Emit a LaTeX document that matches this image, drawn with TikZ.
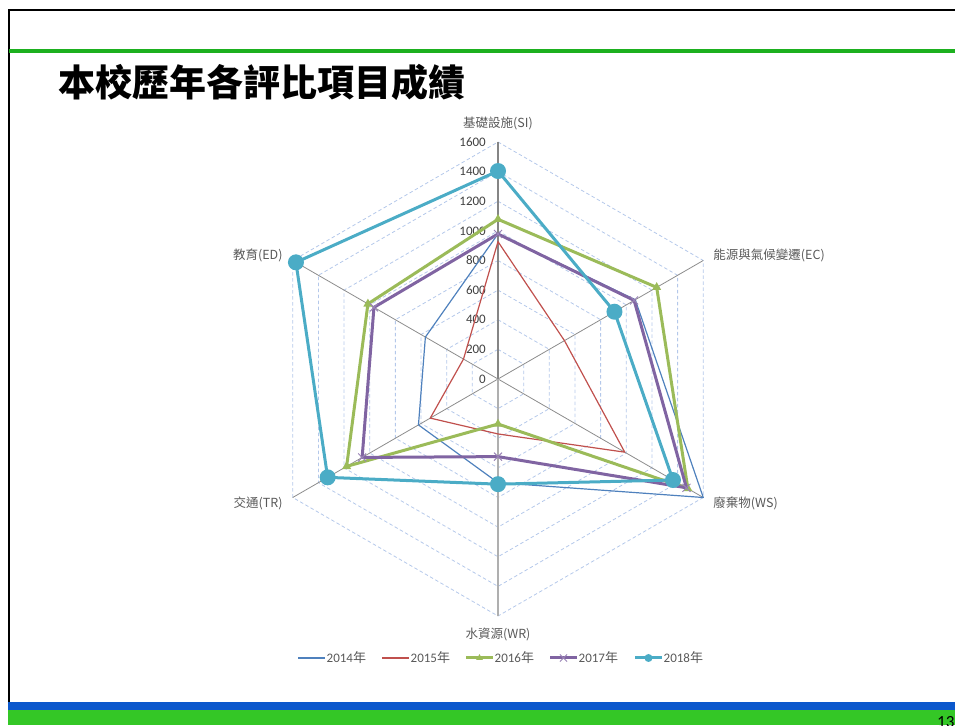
\documentclass[tikz,border=0pt]{standalone}
\usepackage{fontspec}
\setmainfont{Carlito}
\newfontfamily\cjk{Noto Sans CJK TC}
\usetikzlibrary{shapes.geometric}
\usetikzlibrary{shapes.misc}
\usetikzlibrary{positioning}
\definecolor{c2014}{HTML}{4F81BD}
\definecolor{c2015}{HTML}{C0504D}
\definecolor{c2016}{HTML}{9BBB59}
\definecolor{c2017}{HTML}{8064A2}
\definecolor{c2018}{HTML}{4BACC6}
\definecolor{gridblue}{HTML}{B4C8EA}
\definecolor{axisgray}{HTML}{8C8C8C}
\definecolor{labelgray}{HTML}{595959}
\definecolor{tickgray}{HTML}{404040}
\definecolor{headgreen}{HTML}{1DB01F}
\definecolor{barblue}{HTML}{0B58CC}
\definecolor{bargreen}{HTML}{34C726}

\begin{document}
\begin{tikzpicture}
[x=1pt,y=1pt,%
  gridline/.style={draw=gridblue,dash pattern=on 3.5pt off 2.5pt,line width=0.8pt},%
  axisline/.style={draw=axisgray,line width=0.8pt},%
  valaxis/.style={draw=axisgray!95!black,line width=1.8pt},%
  wraxis/.style={draw=axisgray!70,line width=1.8pt},%
  ticklabel/.style={anchor=east,inner sep=0pt,text=tickgray,font=\fontsize{13pt}{15pt}\selectfont},%
  catlabel/.style={inner sep=0pt,text=labelgray,font=\cjk\fontsize{12.5pt}{15pt}\selectfont},%
  legtext/.style={anchor=west,inner sep=0pt,text=labelgray,font=\fontsize{13pt}{15pt}\selectfont},%
  s2014/.style={draw=c2014,line width=1.2pt,line join=round},%
  s2015/.style={draw=c2015,line width=1.2pt,line join=round},%
  s2016/.style={draw=c2016,line width=3pt,line join=round},%
  s2017/.style={draw=c2017,line width=3pt,line join=round},%
  s2018/.style={draw=c2018,line width=3pt,line join=round},%
  mk2014/.style={coordinate},%
  mk2015/.style={coordinate},%
  mk2016/.style={regular polygon,regular polygon sides=3,fill=c2016,inner sep=0pt,minimum size=10.5pt},%
  mk2017/.style={cross out,draw=c2017!80,line width=1pt,inner sep=0pt,minimum size=7pt},%
  mk2018/.style={circle,fill=c2018,inner sep=0pt,minimum size=16pt}]
\useasboundingbox (0,0) rectangle (955,725);
%% slide frame
\draw[black,line width=2.5pt] (9,23) -- (9,715) -- (955,715);
\draw[headgreen,line width=4pt] (9,674) -- (955,674);
\fill[barblue] (8,15) rectangle (955,23);
\fill[bargreen] (8,0) rectangle (955,15);
\node[anchor=base west,inner sep=0pt,font=\fontsize{17pt}{18pt}\selectfont] (pageno) at (937,-2) {13};
%% title
\node[anchor=west,inner sep=0pt,font=\cjk\bfseries\fontsize{37pt}{40pt}\selectfont] (title) at (58,643) {本校歷年各評比項目成績};
%% radar grid and axes
\begin{scope}[shift={(498pt,346pt)},x=0.148125pt,y=0.148125pt]
\coordinate (o) at (0,0);
\foreach \k in {200,400,...,1600}
  \draw[gridline] (90:\k) -- (30:\k) -- (-30:\k) -- (-90:\k) -- (-150:\k) -- (150:\k) -- cycle;
\foreach \i/\ang in {1/90,2/30,3/-30,4/-90,5/-150,6/150}
  \coordinate (ax-\i) at (\ang:1600);
\foreach \i in {2,3,5,6}
  \draw[axisline] (o) -- (ax-\i);
\draw[valaxis] (o) -- (ax-1);
\draw[wraxis] (o) -- (ax-4);
\foreach \v in {0,200,...,1600}
  \node[ticklabel,xshift=-12pt] (tick-\v) at (90:\v) {\v};
%% series, one polygon per year
\foreach \yr/\pa/\pb/\pc/\pd/\pe/\pf in {
  2014/980/1070/1600/700/620/566,
  2015/927/518/988/371/528/269,
  2016/1078/1237/1480/304/1180/1014,
  2017/979/1061/1469/524/1059/967,
  2018/1404/908/1364/710/1328/1575}
{
  \draw[s\yr] (90:\pa) coordinate (\yr-1) -- (30:\pb) coordinate (\yr-2)
    -- (-30:\pc) coordinate (\yr-3) -- (-90:\pd) coordinate (\yr-4)
    -- (-150:\pe) coordinate (\yr-5) -- (150:\pf) coordinate (\yr-6) -- cycle;
  \foreach \i in {1,...,6}
    \node[mk\yr] (m\yr-\i) at (\yr-\i) {};
}
\end{scope}
%% axis labels
\node[catlabel,above=12pt of ax-1] (lab-si) {基礎設施(SI)};
\node[catlabel,right=10pt of ax-2,yshift=5.5pt] (lab-ec) {能源與氣候變遷(EC)};
\node[catlabel,right=10pt of ax-3,yshift=-5.5pt] (lab-ws) {廢棄物(WS)};
\node[catlabel,below=12pt of ax-4] (lab-wr) {水資源(WR)};
\node[catlabel,left=10pt of ax-5,yshift=-5.5pt] (lab-tr) {交通(TR)};
\node[catlabel,left=10pt of ax-6,yshift=5.5pt] (lab-ed) {教育(ED)};
%% legend
\foreach \yr/\x/\sc in {2014/298/1,2015/382/1,2016/466/0.75,2017/550/0.9,2018/635/0.5}
{
  \coordinate (lg\yr-a) at (\x,67);
  \coordinate (lg\yr-b) at (\x+27,67);
  \draw[s\yr] (lg\yr-a) -- (lg\yr-b);
  \node[mk\yr,scale=\sc] (lgm\yr) at (\x+13.5,67) {};
  \node[legtext,right=1.5pt of lg\yr-b] (lgt\yr) {\yr{\cjk 年}};
}
\end{tikzpicture}
\end{document}
